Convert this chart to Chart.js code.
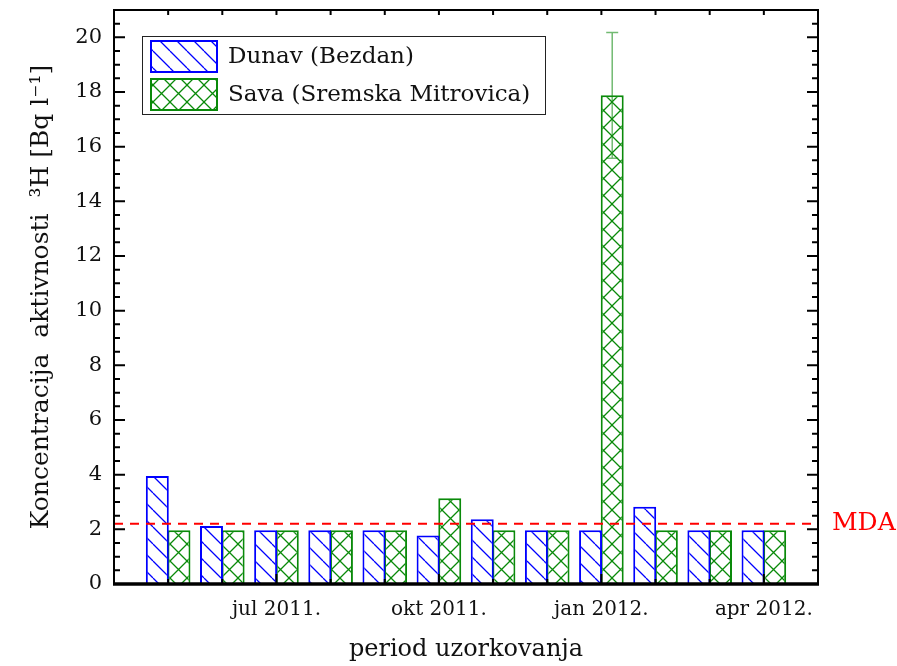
<!DOCTYPE html>
<html>
<head>
<meta charset="utf-8">
<script src="https://cdn.jsdelivr.net/npm/chart.js@4.4.1/dist/chart.umd.min.js"></script>
<style>
  html, body { margin: 0; padding: 0; background: #fff; }
</style>
</head>
<body>
<canvas id="grafico" width="897" height="666"></canvas>
<script>
// mjeseci uzorkovanja (maj 2011. - apr 2012.)
const meseci = ['maj 2011.', 'jun 2011.', 'jul 2011.', 'avg 2011.', 'sep 2011.', 'okt 2011.',
                'nov 2011.', 'dec 2011.', 'jan 2012.', 'feb 2012.', 'mar 2012.', 'apr 2012.'];
const oznaceniMeseci = [2, 5, 8, 11];

const dunav = [3.95, 2.12, 1.97, 1.97, 1.97, 1.77, 2.37, 1.97, 1.97, 2.83, 1.97, 1.97];
const sava  = [1.97, 1.97, 1.97, 1.97, 1.97, 3.14, 1.97, 1.97, 17.88, 1.97, 1.97, 1.97];
const savaGreska = [0, 0, 0, 0, 0, 0, 0, 0, 2.3, 0, 0, 0];
const mda = 2.2;

const plava = '#0000ff';
const zelena = '#0a8a0a';

Chart.defaults.font.family = "'DejaVu Serif', serif";
Chart.defaults.color = '#111';

function sara(boja, ukrsteno) {
  const t = 17;
  const c = document.createElement('canvas');
  c.width = t; c.height = t;
  const g = c.getContext('2d');
  g.fillStyle = '#fff';
  g.fillRect(0, 0, t, t);
  g.strokeStyle = boja;
  g.lineWidth = 1.3;
  g.beginPath();
  for (let k = -1; k <= 1; k++) {
    g.moveTo(k * t, 0);
    g.lineTo(k * t + t, t);
    if (ukrsteno) {
      g.moveTo(k * t, t);
      g.lineTo(k * t + t, 0);
    }
  }
  g.stroke();
  return g.createPattern(c, 'repeat');
}

const ctx = document.getElementById('grafico').getContext('2d');
const saraDunav = sara(plava, false);
const saraSava = sara(zelena, true);

const legenda = [
  { tekst: 'Dunav (Bezdan)', fill: saraDunav, boja: plava },
  { tekst: 'Sava (Sremska Mitrovica)', fill: saraSava, boja: zelena }
];

const okvir = {
  id: 'okvir',
  afterDatasetsDraw(chart) {
    const { ctx, chartArea: a, scales: { x, y } } = chart;
    ctx.save();

    // greska za Savu
    const meta = chart.getDatasetMeta(2);
    ctx.strokeStyle = 'rgba(20,140,20,0.6)';
    ctx.lineWidth = 1.5;
    savaGreska.forEach((e, i) => {
      if (!e) return;
      const px = meta.data[i].x;
      const y1 = y.getPixelForValue(sava[i] + e);
      const y2 = y.getPixelForValue(sava[i] - e);
      ctx.beginPath();
      ctx.moveTo(px, y1); ctx.lineTo(px, y2);
      ctx.moveTo(px - 6, y1); ctx.lineTo(px + 6, y1);
      ctx.moveTo(px - 6, y2); ctx.lineTo(px + 6, y2);
      ctx.stroke();
    });

    // crtice na osama
    ctx.strokeStyle = '#000';
    ctx.lineWidth = 2;
    ctx.beginPath();
    for (let v = 0.5; v < 21; v += 0.5) {
      const py = y.getPixelForValue(v);
      const len = v % 2 === 0 ? 11 : 6;
      ctx.moveTo(a.left, py); ctx.lineTo(a.left + len, py);
      ctx.moveTo(a.right, py); ctx.lineTo(a.right - len, py);
    }
    meseci.forEach((m, i) => {
      const px = x.getPixelForValue(i);
      const len = oznaceniMeseci.includes(i) ? 10 : 5;
      ctx.moveTo(px, a.bottom); ctx.lineTo(px, a.bottom - len);
      ctx.moveTo(px, a.top); ctx.lineTo(px, a.top + 5);
    });
    ctx.stroke();

    ctx.beginPath();
    ctx.moveTo(a.left, a.bottom); ctx.lineTo(a.left, a.top);
    ctx.lineTo(a.right, a.top); ctx.lineTo(a.right, a.bottom);
    ctx.stroke();
    ctx.lineWidth = 3.5;
    ctx.beginPath();
    ctx.moveTo(a.left - 1, a.bottom); ctx.lineTo(a.right + 1, a.bottom);
    ctx.stroke();

    // MDA natpis
    ctx.fillStyle = '#ff0000';
    ctx.font = "25px 'DejaVu Serif'";
    ctx.textBaseline = 'middle';
    ctx.textAlign = 'left';
    ctx.fillText('MDA', a.right + 14, y.getPixelForValue(mda));

    // legenda
    const lx = a.left + 28, ly = a.top + 26;
    ctx.strokeStyle = '#222';
    ctx.lineWidth = 1;
    ctx.strokeRect(lx + 0.5, ly + 0.5, 403, 78);
    ctx.font = "23px 'DejaVu Serif'";
    legenda.forEach((l, k) => {
      const sy = ly + 4 + k * 38;
      ctx.fillStyle = l.fill;
      ctx.fillRect(lx + 8, sy, 68, 33);
      ctx.strokeStyle = l.boja;
      ctx.lineWidth = 2;
      ctx.strokeRect(lx + 9, sy + 1, 66, 31);
      ctx.fillStyle = '#111';
      ctx.fillText(l.tekst, lx + 86, sy + 17);
    });
    ctx.restore();
  }
};

new Chart(ctx, {
  type: 'bar',
  data: {
    datasets: [
      {
        type: 'line',
        label: 'MDA',
        data: [{ x: -1, y: mda }, { x: 12, y: mda }],
        borderColor: '#ff0000',
        borderWidth: 2,
        borderDash: [9, 7],
        pointRadius: 0,
        fill: false
      },
      {
        label: 'Dunav (Bezdan)',
        data: dunav.map((v, i) => ({ x: i, y: v })),
        backgroundColor: saraDunav,
        borderColor: plava,
        borderWidth: 2,
        categoryPercentage: 0.8,
        barPercentage: 1.06
      },
      {
        label: 'Sava (Sremska Mitrovica)',
        data: sava.map((v, i) => ({ x: i, y: v })),
        backgroundColor: saraSava,
        borderColor: zelena,
        borderWidth: 2,
        categoryPercentage: 0.8,
        barPercentage: 1.06
      }
    ]
  },
  options: {
    responsive: false,
    animation: false,
    devicePixelRatio: 1,
    layout: { padding: { top: 10, right: 79, left: 0, bottom: 0 } },
    scales: {
      x: {
        type: 'linear',
        position: 'bottom',
        offset: false,
        min: -1,
        max: 12,
        grid: { display: false, offset: false },
        border: { display: false },
        afterBuildTicks: (s) => { s.ticks = oznaceniMeseci.map(v => ({ value: v })); },
        afterFit: (s) => { s.height = 82; s.paddingLeft = 0; s.paddingRight = 0; },
        ticks: {
          autoSkip: false,
          maxRotation: 0,
          padding: 6,
          color: '#111',
          font: { size: 20 },
          callback: (v) => meseci[v]
        },
        title: {
          display: true,
          text: 'period uzorkovanja',
          color: '#111',
          font: { size: 24 },
          padding: { top: 0, bottom: 2 }
        }
      },
      y: {
        min: 0,
        max: 21,
        grid: { display: false },
        border: { display: false },
        afterFit: (s) => { s.width = 114; s.paddingTop = 0; s.paddingBottom = 0; },
        ticks: {
          stepSize: 2,
          includeBounds: false,
          padding: 4,
          color: '#111',
          font: { size: 21 }
        },
        title: {
          display: true,
          text: 'Koncentracija  aktivnosti  \u00B3H [Bq l\u207B\u00B9]',
          color: '#111',
          font: { size: 25 },
          padding: { top: 26, bottom: 0 }
        }
      }
    },
    plugins: {
      legend: { display: false },
      tooltip: { enabled: false }
    }
  },
  plugins: [okvir]
});
</script>
</body>
</html>
